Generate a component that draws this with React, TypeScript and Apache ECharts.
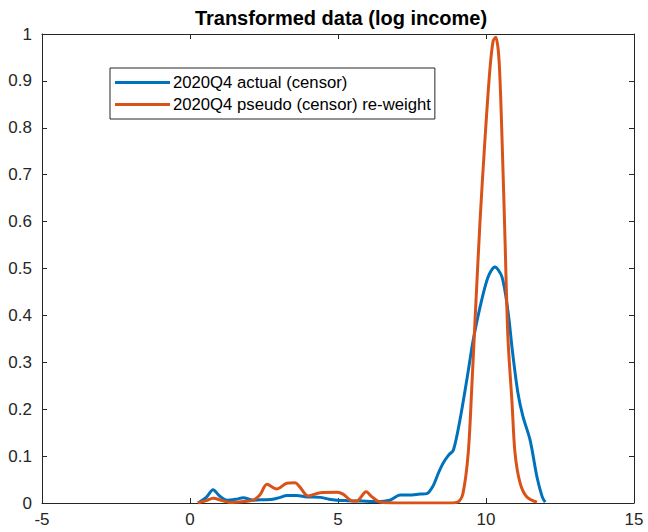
import React, { useEffect, useRef } from "react";
import * as echarts from "echarts";

const titleText = "Transformed data (log income)";
const seriesNames = ["2020Q4 actual (censor)", "2020Q4 pseudo (censor) re-weight"];

const actualX = [0.27, 0.55, 0.78, 1.0, 1.25, 1.55, 1.8, 2.13, 2.5, 2.8, 3.05, 3.27, 3.6, 3.95, 4.4, 4.7, 4.97, 5.3, 5.8, 6.3, 6.75, 7.1, 7.4, 7.77, 8.0, 8.2, 8.4, 8.55, 8.75, 8.9, 9.12, 9.35, 9.57, 9.8, 10.07, 10.3, 10.54, 10.74, 10.9, 11.08, 11.25, 11.49, 11.72, 11.9, 12.0];
const actualY = [0.0, 0.012, 0.028, 0.015, 0.006, 0.008, 0.011, 0.006, 0.007, 0.008, 0.012, 0.016, 0.016, 0.013, 0.012, 0.008, 0.006, 0.005, 0.004, 0.003, 0.006, 0.017, 0.017, 0.019, 0.02, 0.035, 0.065, 0.085, 0.103, 0.113, 0.177, 0.262, 0.348, 0.418, 0.482, 0.503, 0.482, 0.41, 0.32, 0.234, 0.184, 0.134, 0.056, 0.013, 0.002];

const pseudoX = [0.27, 0.55, 0.78, 1.05, 1.35, 1.8, 2.13, 2.36, 2.6, 2.93, 3.27, 3.55, 3.7, 3.99, 4.4, 4.97, 5.17, 5.5, 5.63, 5.95, 6.15, 6.42, 7.0, 8.0, 8.8, 9.05, 9.22, 9.4, 9.52, 9.63, 9.8, 9.97, 10.13, 10.24, 10.33, 10.44, 10.54, 10.64, 10.74, 10.88, 10.98, 11.15, 11.38, 11.72];
const pseudoY = [0.0, 0.005, 0.01, 0.006, 0.001, 0.003, 0.006, 0.017, 0.04, 0.03, 0.042, 0.043, 0.035, 0.015, 0.022, 0.023, 0.019, 0.004, 0.004, 0.024, 0.013, 0.002, 0.0, 0.0, 0.0, 0.002, 0.02, 0.107, 0.247, 0.39, 0.603, 0.78, 0.923, 0.985, 0.993, 0.945, 0.78, 0.567, 0.354, 0.213, 0.107, 0.043, 0.013, 0.002];

const xTicks = { min: -5, max: 15, interval: 5 };
const yTicks = { min: 0, max: 1, interval: 0.1 };

const colors = ["#0072BD", "#D95319"];
const axisColor = "#262626";
const font = "'Liberation Sans', Arial, Helvetica, sans-serif";

export default function App() {
  const ref = useRef<HTMLDivElement>(null);
  useEffect(() => {
    if (!ref.current) return;
    const chart = echarts.init(ref.current, null, { renderer: "svg" });
    const pairs = (xs: number[], ys: number[]) => xs.map((x, i) => [x, ys[i]]);
    const baseX = {
      type: "value" as const,
      min: xTicks.min,
      max: xTicks.max,
      interval: xTicks.interval,
      splitLine: { show: false },
      axisLine: { show: true, onZero: false, lineStyle: { color: axisColor, width: 1 } },
      axisTick: { show: true, inside: true, length: 5, lineStyle: { color: axisColor } },
    };
    const baseY = {
      type: "value" as const,
      min: yTicks.min,
      max: yTicks.max,
      interval: yTicks.interval,
      splitLine: { show: false },
      axisLine: { show: true, onZero: false, lineStyle: { color: axisColor, width: 1 } },
      axisTick: { show: true, inside: true, length: 5, lineStyle: { color: axisColor } },
    };
    chart.setOption({
      animation: false,
      backgroundColor: "#ffffff",
      title: {
        text: titleText,
        left: 336,
        textAlign: "center",
        top: 3,
        textStyle: { fontFamily: font, fontSize: 20, fontWeight: "bold", color: "#000" },
      },
      legend: {
        orient: "vertical",
        left: 110,
        top: 68,
        data: seriesNames,
        icon: "rect",
        itemWidth: 55,
        itemHeight: 3,
        itemGap: 5,
        padding: [6, 4, 6, 5],
        borderColor: axisColor,
        borderWidth: 1,
        backgroundColor: "#fff",
        textStyle: { fontFamily: font, fontSize: 16.7, lineHeight: 17, color: "#000", padding: [0, 0, 0, -2] },
      },
      grid: { left: 42, right: 14, top: 34, bottom: 29, containLabel: false },
      xAxis: [
        {
          ...baseX,
          position: "bottom",
          axisLabel: { color: axisColor, fontFamily: font, fontSize: 17, margin: 8 },
        },
        { ...baseX, position: "top", axisLabel: { show: false } },
      ],
      yAxis: [
        {
          ...baseY,
          position: "left",
          axisLabel: { color: axisColor, fontFamily: font, fontSize: 17, margin: 10 },
        },
        { ...baseY, position: "right", axisLabel: { show: false } },
      ],
      series: [
        {
          name: seriesNames[0],
          type: "line",
          data: pairs(actualX, actualY),
          smooth: 0.3,
          showSymbol: false,
          symbol: "none",
          lineStyle: { color: colors[0], width: 3 },
          itemStyle: { color: colors[0] },
        },
        {
          name: seriesNames[1],
          type: "line",
          data: pairs(pseudoX, pseudoY),
          smooth: 0.3,
          showSymbol: false,
          symbol: "none",
          lineStyle: { color: colors[1], width: 3 },
          itemStyle: { color: colors[1] },
        },
      ],
    });
    return () => chart.dispose();
  }, []);
  return (
    <div
      ref={ref}
      style={{ position: "fixed", left: 0, top: 0, width: 648, height: 532 }}
    />
  );
}
